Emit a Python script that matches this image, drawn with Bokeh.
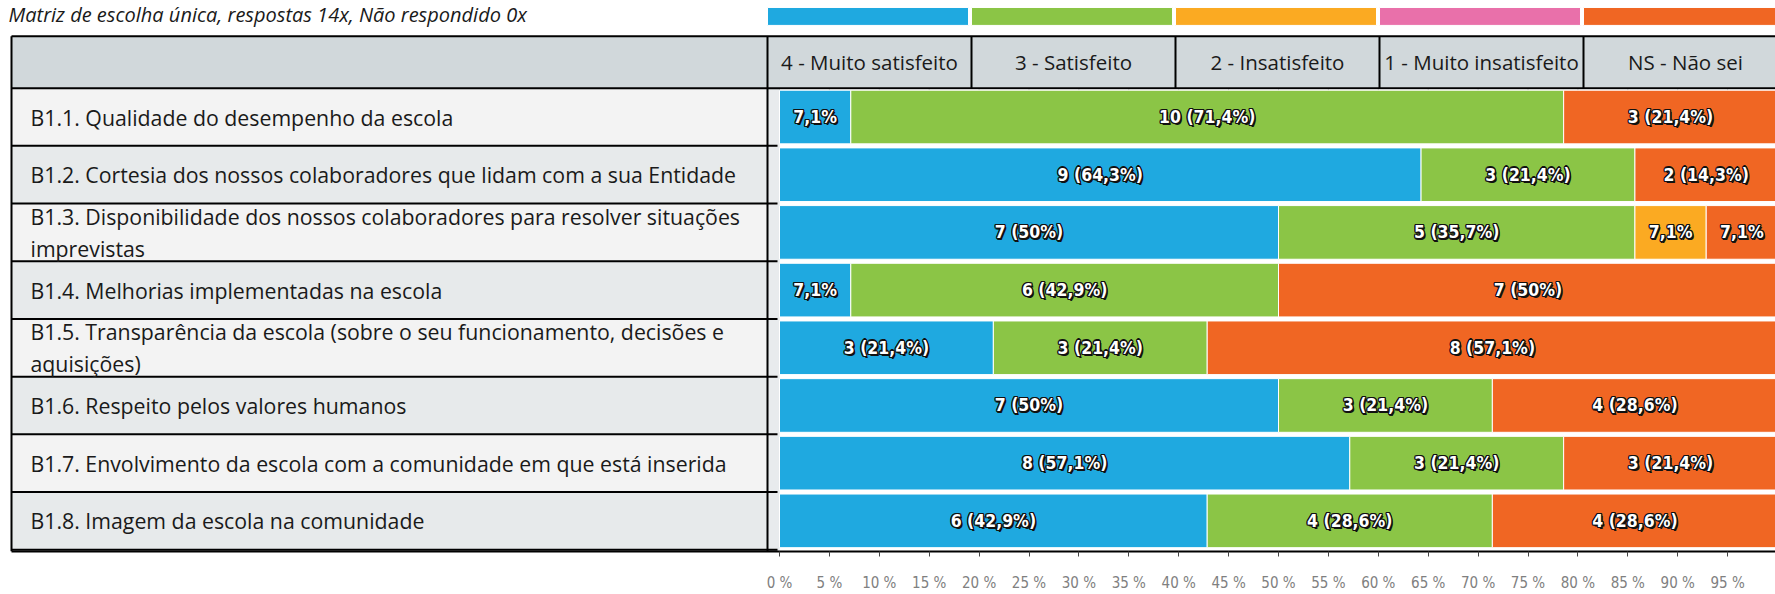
from bokeh.plotting import figure
from bokeh.models import Range1d, FixedTicker, PrintfTickFormatter, ColumnDataSource
from bokeh.core.properties import value
from bokeh.embed import file_html
from bokeh.resources import INLINE

# ---------------- data ----------------
subtitle = "Matriz de escolha única, respostas 14x, Não respondido 0x"
categories = [
    "B1.1. Qualidade do desempenho da escola",
    "B1.2. Cortesia dos nossos colaboradores que lidam com a sua Entidade",
    "B1.3. Disponibilidade dos nossos colaboradores para resolver situações\nimprevistas",
    "B1.4. Melhorias implementadas na escola",
    "B1.5. Transparência da escola (sobre o seu funcionamento, decisões e\naquisições)",
    "B1.6. Respeito pelos valores humanos",
    "B1.7. Envolvimento da escola com a comunidade em que está inserida",
    "B1.8. Imagem da escola na comunidade",
]
answers = ["4 - Muito satisfeito", "3 - Satisfeito", "2 - Insatisfeito",
           "1 - Muito insatisfeito", "NS - Não sei"]
muito_satisfeito = [1, 9, 7, 1, 3, 7, 8, 6]
satisfeito = [10, 3, 5, 6, 3, 3, 3, 4]
insatisfeito = [0, 0, 1, 0, 0, 0, 0, 0]
muito_insatisfeito = [0, 0, 0, 0, 0, 0, 0, 0]
nao_sei = [3, 2, 1, 7, 8, 4, 3, 4]
series = [muito_satisfeito, satisfeito, insatisfeito, muito_insatisfeito, nao_sei]
colors = ["#1fa9e0", "#8bc546", "#fbaa22", "#e970aa", "#f06623"]
tick_values = list(range(0, 101, 5))

# ---------------- layout (pixels -> data) ----------------
W, H = 1775, 594
AXIS_H = 41
FRAME_BOTTOM = H - AXIS_H
X0_PX, X100_PX = 779.0, 1777.0
KX = (X100_PX - X0_PX) / 100.0
X_START = -X0_PX / KX
X_END = X_START + W / KX
ROW_TOP, ROW_H = 88.0, 57.9


def X(px):
    return X_START + px / KX


def Y(px):
    return (px - ROW_TOP) / ROW_H - 0.5


p = figure(width=W, height=H, output_backend="svg", toolbar_location=None,
           x_range=Range1d(X_START, X_END), y_range=Range1d(Y(FRAME_BOTTOM), Y(0)),
           y_axis_location=None, min_border_left=0, min_border_right=0,
           min_border_top=0, min_border_bottom=AXIS_H)
p.grid.visible = False
p.outline_line_color = None
p.background_fill_color = "white"
p.border_fill_color = "white"

n = len(categories)
rows = list(range(n))
TABLE_L, LABEL_R, BAR_GAP_R = 11, 767, 779
HEADER_T, HEADER_B = 36, 88
COL_W = 204

# label column backgrounds
p.quad(left=[X(TABLE_L)] * n, right=[X(LABEL_R)] * n,
       top=[r - 0.5 for r in rows], bottom=[r + 0.5 for r in rows],
       fill_color=["#f3f3f3" if r % 2 == 0 else "#e7eaeb" for r in rows],
       line_color=None)
p.quad(left=[X(LABEL_R)], right=[X(BAR_GAP_R)], top=[Y(HEADER_B)], bottom=[Y(FRAME_BOTTOM)],
       fill_color="#e8ebed", line_color=None)

# header
p.quad(left=[X(TABLE_L)], right=[X(W)], top=[Y(HEADER_T)], bottom=[Y(HEADER_B)],
       fill_color="#d1d8db", line_color=None)
col_lefts = [LABEL_R + COL_W * k for k in range(len(answers))]
p.text(x=[X(c + COL_W / 2) for c in col_lefts], y=[Y((HEADER_T + HEADER_B) / 2)] * len(answers),
       text=answers, text_align="center", text_baseline="middle",
       text_font=value("Open Sans"), text_font_size="20.5px", text_color="#1a1a1a")

# legend color strips
p.quad(left=[X(c) for c in col_lefts], right=[X(c + COL_W - 3) for c in col_lefts],
       top=[Y(7)] * len(answers), bottom=[Y(25)] * len(answers),
       fill_color=colors, line_color="white", line_width=1)

# small light ticks under the header
p.segment(x0=tick_values, x1=tick_values, y0=[Y(HEADER_B)] * len(tick_values),
          y1=[Y(HEADER_B + 5)] * len(tick_values), line_color="#c9c9c9", line_width=1)

# table lines
hl_y = [Y(HEADER_T), Y(HEADER_B)]
p.segment(x0=[X(TABLE_L)] * 2, x1=[X(W)] * 2, y0=hl_y, y1=hl_y, line_color="black", line_width=2)
row_lines = [r + 0.5 for r in rows]
p.segment(x0=[X(TABLE_L)] * n, x1=[X(BAR_GAP_R - 2)] * n, y0=row_lines, y1=row_lines,
          line_color="black", line_width=2)
vx = [X(TABLE_L), X(LABEL_R)]
p.segment(x0=vx, x1=vx, y0=[Y(HEADER_T)] * 2, y1=[Y(FRAME_BOTTOM)] * 2,
          line_color="black", line_width=2)
dx = [X(c) for c in col_lefts[1:]]
p.segment(x0=dx, x1=dx, y0=[Y(HEADER_T)] * len(dx), y1=[Y(HEADER_B)] * len(dx),
          line_color="black", line_width=2)

# row labels
p.text(x=[X(30)] * n, y=rows, text=categories, text_align="left", text_baseline="middle",
       text_font=value("Open Sans"), text_font_size="21.3px", text_color="#1a1a1a",
       text_line_height=1.1)

# subtitle
p.text(x=[X(8)], y=[Y(1)], text=[subtitle], text_align="left", text_baseline="top",
       text_font=value("Open Sans"), text_font_style="italic", text_font_size="20px",
       text_color="#1a1a1a")

# stacked bars
left, right, yy, fill, lab, cx = [], [], [], [], [], []
for i in rows:
    total = sum(s[i] for s in series)
    acc = 0.0
    for k, s in enumerate(series):
        c = s[i]
        pct = 100.0 * c / total
        if c > 0:
            left.append(acc)
            right.append(acc + pct)
            yy.append(i)
            fill.append(colors[k])
            ps = ("%.1f" % pct).rstrip("0").rstrip(".").replace(".", ",")
            lab.append(ps + "%" if pct < 10 else "%d (%s%%)" % (c, ps))
            cx.append(acc + pct / 2)
        acc += pct
src = ColumnDataSource(dict(left=left, right=right, y=yy, fill=fill, lab=lab, cx=cx))
p.hbar(y="y", left="left", right="right", height=0.93, fill_color="fill",
       line_color="white", line_width=1, source=src)

label_style = dict(x="cx", y="y", text="lab", text_align="center", text_baseline="middle",
                   text_font=value("DejaVu Sans Condensed"), text_font_style="bold",
                   text_font_size="17.5px", source=src)
for ox, oy in [(-1.3, 0), (1.3, 0), (0, -1.3), (0, 1.3), (-1, -1), (1, -1), (-1, 1),
               (1, 1), (1.8, 1.8)]:
    p.text(x_offset=ox, y_offset=oy, text_color="#111111", **label_style)
p.text(text_color="white", **label_style)

# x axis
ax = p.xaxis[0]
ax.ticker = FixedTicker(ticks=tick_values)
ax.formatter = PrintfTickFormatter(format="%d %%")
ax.bounds = (X(TABLE_L), 100)
ax.axis_line_color = "black"
ax.axis_line_width = 2
ax.major_tick_out = 5
ax.major_tick_in = 0
ax.major_tick_line_color = "#444444"
ax.minor_tick_line_color = None
ax.major_label_standoff = 17
ax.major_label_text_font = "DejaVu Sans Condensed"
ax.major_label_text_font_size = "15px"
ax.major_label_text_color = "#808080"

open("out.html", "w").write(file_html(p, INLINE))
